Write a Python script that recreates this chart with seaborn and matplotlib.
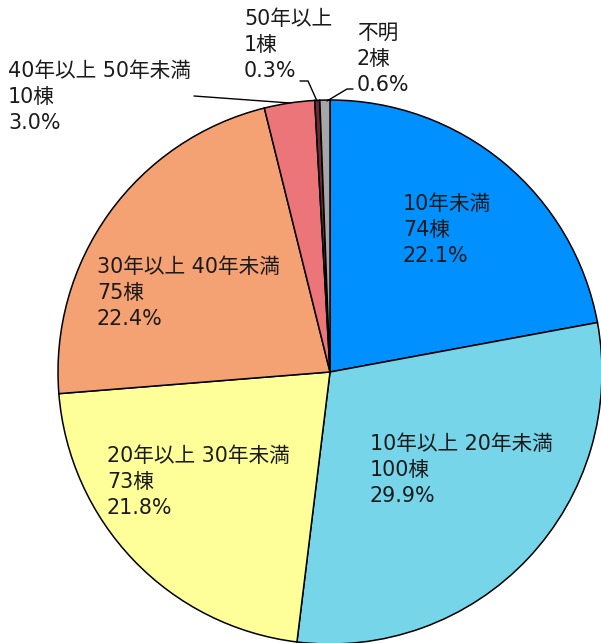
import matplotlib
matplotlib.use("Agg")
import matplotlib.pyplot as plt
import seaborn as sns

sns.set_theme(style="white")
plt.rcParams['font.family'] = ['DejaVu Sans', 'Noto Sans CJK JP']

categories = ["10年未満", "10年以上 20年未満", "20年以上 30年未満", "30年以上 40年未満",
              "40年以上 50年未満", "50年以上", "不明"]
counts = [74, 100, 73, 75, 10, 1, 2]
percents = ["22.1%", "29.9%", "21.8%", "22.4%", "3.0%", "0.3%", "0.6%"]
colors = ["#0090FF", "#77D5EA", "#FFFF99", "#F4A274", "#EC7579", "#6B2A3A", "#A6A6A6"]

W, H = 601, 643
cx, cy, R = 330, 372, 272

fig = plt.figure(figsize=(W / 100, H / 100), dpi=100)
ax = fig.add_axes([0, 0, 1, 1])

ax.pie(counts, colors=colors, startangle=90, counterclock=False, radius=1.0,
       wedgeprops=dict(edgecolor="black", linewidth=1.1))

ax.set_xlim(-cx / R, (W - cx) / R)
ax.set_ylim(-(H - cy) / R, cy / R)
ax.set_aspect("equal")
ax.axis("off")


def px(x, y):
    return ((x - cx) / R, (cy - y) / R)


# label positions (top-left of text block, in pixels)
label_pos = [(403, 194), (370, 434), (107, 446), (97, 257), (8, 61), (244, 9), (357, 23)]
for cat, n, p, (lx, ly) in zip(categories, counts, percents, label_pos):
    x, y = px(lx, ly)
    ax.text(x, y, f"{cat}\n{n}棟\n{p}", ha="left", va="top", fontsize=14.9,
            linespacing=1.37, color="#1a1a1a")

# leader lines
leaders = [
    [(194, 96), (290, 103)],
    [(300, 81), (308, 81), (317, 101)],
    [(353, 89), (347, 89), (327, 101)],
]
for pts in leaders:
    xs, ys = zip(*[px(a, b) for a, b in pts])
    ax.plot(xs, ys, color="black", linewidth=1.0)

fig.savefig("out.png", dpi=100)
